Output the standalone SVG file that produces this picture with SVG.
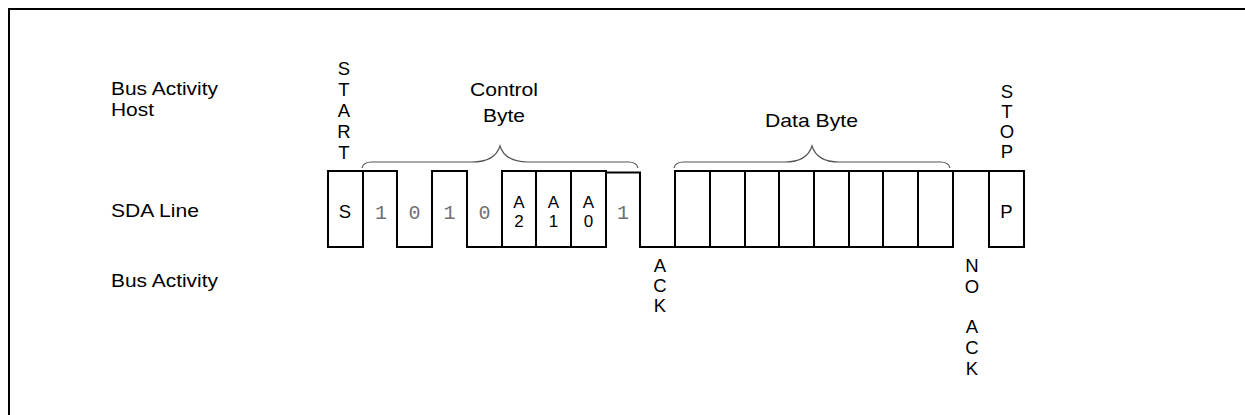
<svg xmlns="http://www.w3.org/2000/svg" width="1245" height="415" viewBox="0 0 1245 415">
  <style>
    .lbl { font-family: "Liberation Sans", Arial, sans-serif; font-size: 18.5px; fill: #000; }
    .mid { text-anchor: middle; }
    .addr { font-family: "Liberation Sans", Arial, sans-serif; font-size: 17px; fill: #000; text-anchor: middle; }
    .bit { font-family: "Liberation Mono", "Courier New", monospace; font-size: 20px; fill: #707070; text-anchor: middle; }
    .wave { fill: none; stroke: #000; stroke-width: 2; stroke-linejoin: miter; stroke-linecap: square; }
    .brace { fill: none; stroke: #555; stroke-width: 1.2; }
    .frame { fill: none; stroke: #000; stroke-width: 2; }
  </style>
  <rect x="0" y="0" width="1245" height="415" fill="#fff"/>
  <path class="frame" d="M9,415 V9 H1245"/>

  <g id="row-labels">
    <text class="lbl" x="111" y="94.5" textLength="107" lengthAdjust="spacingAndGlyphs">Bus Activity</text>
    <text class="lbl" x="111" y="115.5" textLength="43" lengthAdjust="spacingAndGlyphs">Host</text>
    <text class="lbl" x="111" y="217" textLength="88" lengthAdjust="spacingAndGlyphs">SDA Line</text>
    <text class="lbl" x="111" y="287" textLength="107" lengthAdjust="spacingAndGlyphs">Bus Activity</text>
  </g>

  <g id="start-label">
    <text class="lbl mid"><tspan x="344" y="75">S</tspan><tspan x="344" y="96">T</tspan><tspan x="344" y="117">A</tspan><tspan x="344" y="138">R</tspan><tspan x="344" y="159">T</tspan></text>
  </g>

  <g id="control-byte">
    <text class="lbl" x="470" y="96" textLength="68" lengthAdjust="spacingAndGlyphs">Control</text>
    <text class="lbl" x="483" y="121.5" textLength="42" lengthAdjust="spacingAndGlyphs">Byte</text>
    <path class="brace" d="M362,168 Q363,162 372,162 L472,162 Q495,162 500,146 Q505,162 528,162 L628,162 Q637,162 638,168"/>
  </g>

  <g id="data-byte">
    <text class="lbl" x="765" y="127" textLength="93" lengthAdjust="spacingAndGlyphs">Data Byte</text>
    <path class="brace" d="M674,168 Q675,162 684,162 L785,162 Q807,162 812,146 Q817,162 839,162 L940,162 Q949,162 950,168"/>
  </g>

  <g id="stop-label">
    <text class="lbl mid"><tspan x="1007" y="98">S</tspan><tspan x="1007" y="118">T</tspan><tspan x="1007" y="138">O</tspan><tspan x="1007" y="158">P</tspan></text>
  </g>

  <g id="sda-waveform">
    <path class="wave" d="M328,171 H363 V247 H328 Z"/>
    <path class="wave" d="M363,171 H397 V247 H432 V171 H467 V247 H502 V171 H606 V247 H502"/>
    <path class="wave" d="M536,171 V247 M571,171 V247"/>
    <path class="wave" d="M606,172.5 H640 V247 H675 V171 H953 V247 H675"/>
    <path class="wave" d="M710,171 V247 M745,171 V247 M779,171 V247 M814,171 V247 M849,171 V247 M883,171 V247 M918,171 V247"/>
    <path class="wave" d="M953,171 H1024 V247 H989 V171"/>
  </g>

  <g id="bit-labels">
    <text class="lbl mid" x="345" y="218">S</text>
    <text class="bit" x="381" y="218.5">1</text>
    <text class="bit" x="414.5" y="218.5">0</text>
    <text class="bit" x="449.5" y="218.5">1</text>
    <text class="bit" x="484.5" y="218.5">0</text>
    <text class="addr" x="519" y="207.5">A</text>
    <text class="addr" x="519" y="226.8">2</text>
    <text class="addr" x="553.5" y="207.5">A</text>
    <text class="addr" x="553.5" y="226.8">1</text>
    <text class="addr" x="588.5" y="207.5">A</text>
    <text class="addr" x="588.5" y="226.8">0</text>
    <text class="bit" x="623" y="218.5">1</text>
    <text class="lbl mid" x="1006.5" y="218">P</text>
  </g>

  <g id="ack-label">
    <text class="lbl mid"><tspan x="660" y="272">A</tspan><tspan x="660" y="292">C</tspan><tspan x="660" y="312">K</tspan></text>
  </g>

  <g id="noack-label">
    <text class="lbl mid"><tspan x="972" y="272">N</tspan><tspan x="972" y="292.5">O</tspan><tspan x="972" y="333">A</tspan><tspan x="972" y="354">C</tspan><tspan x="972" y="375">K</tspan></text>
  </g>
</svg>
